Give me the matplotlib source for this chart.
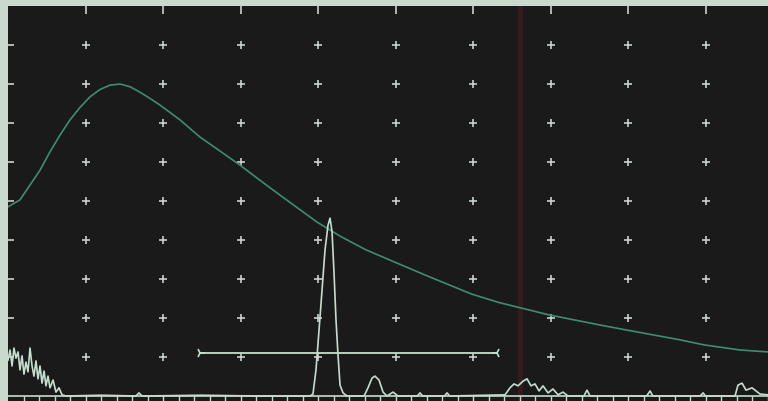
import matplotlib
matplotlib.use("Agg")
import matplotlib.pyplot as plt
import numpy as np

# Screen geometry: horizontal divisions (range) and amplitude in percent of full screen height
X_MAX = 9.806
Y_MIN = -1.28

# DAC reference curve (division, % amplitude)
dac_x = [0.000, 0.155, 0.284, 0.413, 0.542, 0.671, 0.800, 0.929, 1.058, 1.187, 1.316,
         1.445, 1.574, 1.703, 1.832, 1.961, 2.219, 2.477, 2.736, 2.994, 3.252, 3.510,
         3.987, 4.284, 4.606, 4.981, 5.445, 5.987, 6.348, 6.981, 7.639, 7.987,
         8.671, 8.981, 9.445, 9.806]
dac_y = [48.5, 50.3, 54.1, 57.9, 62.6, 66.9, 70.8, 74.0, 76.7, 78.6, 79.7,
         80.0, 79.3, 77.9, 76.3, 74.6, 70.8, 66.4, 62.8, 59.2, 55.3, 51.5,
         44.6, 41.0, 37.6, 34.4, 30.5, 26.1, 23.9, 20.8, 18.2, 16.9,
         14.4, 13.1, 11.8, 11.3]

# A-scan echo trace (division, % amplitude)
scan_x = [0.000, 0.026, 0.052, 0.077, 0.103, 0.129, 0.155, 0.181, 0.206, 0.232, 0.258,
          0.284, 0.310, 0.335, 0.361, 0.387, 0.413, 0.439, 0.465, 0.490, 0.516, 0.542,
          0.581, 0.619, 0.658, 0.697, 0.748, 1.200, 1.650, 1.690, 1.730, 2.500, 3.200,
          3.897, 3.935, 3.974, 4.013, 4.052, 4.090, 4.129, 4.155, 4.181, 4.206, 4.232,
          4.258, 4.284, 4.323, 4.374, 4.594, 4.645, 4.697, 4.735, 4.787, 4.839, 4.890,
          4.968, 5.032, 5.280, 5.316, 5.350, 5.630, 5.665, 5.700, 6.413, 6.477, 6.529,
          6.581, 6.645, 6.697, 6.748, 6.800, 6.852, 6.903, 6.968, 7.032, 7.097, 7.161,
          7.226, 7.430, 7.471, 7.510, 8.240, 8.284, 8.320, 8.930, 8.968, 9.000, 9.380,
          9.419, 9.471, 9.523, 9.600, 9.703, 9.806]
scan_y = [9.2, 11.8, 7.7, 12.3, 9.7, 11.3, 6.7, 10.3, 5.6, 8.7, 6.2,
          12.3, 7.7, 5.1, 9.0, 4.4, 7.7, 3.3, 6.4, 2.6, 5.1, 2.1,
          4.1, 1.0, 2.1, 0.3, 0.0, 0.2, 0.0, 0.8, 0.0, 0.2, 0.0,
          0.0, 0.5, 6.7, 16.9, 27.2, 37.4, 43.8, 45.6, 42.1, 31.8, 19.5,
          10.5, 2.8, 0.8, 0.0, 0.0, 2.1, 4.6, 5.1, 4.1, 1.0, 0.0,
          1.0, 0.0, 0.0, 0.8, 0.0, 0.0, 0.8, 0.0, 0.3, 2.1, 3.1,
          2.6, 3.8, 4.4, 2.6, 3.1, 1.3, 2.6, 0.8, 1.8, 0.3, 1.0,
          0.0, 0.0, 1.5, 0.0, 0.0, 1.3, 0.0, 0.0, 0.8, 0.0, 0.0,
          2.8, 3.3, 1.5, 2.1, 0.5, 0.3]

# Gate: start, end (divisions) and threshold level (%)
gate_start, gate_end, gate_level = 2.477, 6.31, 11.0

# Marker cursor position (divisions)
cursor_x = 6.606

# Grid divisions
major_x = [1, 2, 3, 4, 5, 6, 7, 8, 9]
major_y = [10, 20, 30, 40, 50, 60, 70, 80, 90]
minor_x = np.arange(0.2, X_MAX, 0.2)

FRAME = "#c9d9cd"
SCREEN = "#1b1a1a"
TRACE = "#c4dece"
DAC = "#3f8c74"
CROSS = "#c9d0ca"

W, H = 768, 401
fig = plt.figure(figsize=(W / 100, H / 100), dpi=100, facecolor=FRAME)
ax = fig.add_axes([8 / W, 0, 760 / W, 395 / H])
ax.set_facecolor(SCREEN)
ax.set_xlim(0, X_MAX)
ax.set_ylim(Y_MIN, 100)
for s in ax.spines.values():
    s.set_visible(False)

# Cursor line
ax.axvline(cursor_x, color="#361b1d", lw=3.5, zorder=1)

# Graticule crosses
gx, gy = np.meshgrid(major_x, major_y)
ax.scatter(gx.ravel(), gy.ravel(), marker="+", s=34, linewidths=1.2,
           color=CROSS, zorder=2)

# Edge ticks
ax.set_xticks(major_x)
ax.set_yticks(major_y)
ax.set_xticklabels([])
ax.set_yticklabels([])
ax.tick_params(axis="x", top=True, bottom=False, direction="in",
               length=6, width=1.2, color=CROSS)
ax.tick_params(axis="y", left=True, right=False, direction="in",
               length=4, width=1.2, color=CROSS)

# Baseline with minor division ticks
ax.axhline(0, color=TRACE, lw=1.2, zorder=3)
ax.vlines(minor_x, Y_MIN, 0, color=TRACE, lw=1.0, zorder=3)

# DAC curve
ax.plot(dac_x, dac_y, color=DAC, lw=1.2, zorder=4)

# Gate
ax.plot([gate_start, gate_end], [gate_level, gate_level], color=TRACE, lw=1.3, zorder=4)
ax.plot([gate_start], [gate_level], marker="4", ms=7, mew=1.2, color=TRACE, zorder=4)
ax.plot([gate_end], [gate_level], marker="3", ms=7, mew=1.2, color=TRACE, zorder=4)

# A-scan
ax.plot(scan_x, scan_y, color=TRACE, lw=1.2, zorder=5)

fig.savefig("out.png", dpi=100, facecolor=FRAME)
